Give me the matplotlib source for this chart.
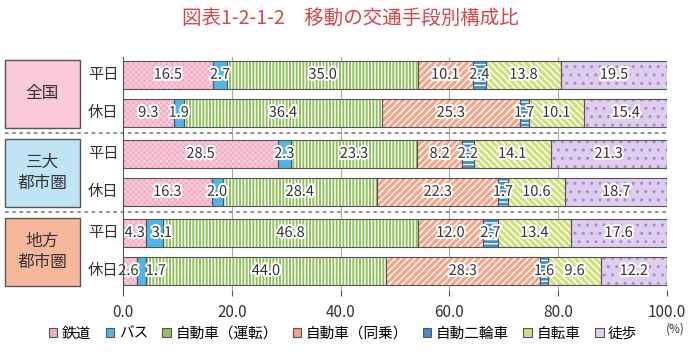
import numpy as np
import matplotlib
matplotlib.use("Agg")
import matplotlib.pyplot as plt
import matplotlib.patheffects as pe
from matplotlib.patches import Rectangle, Patch
import matplotlib.transforms as mtransforms

plt.rcParams['font.family'] = ['Noto Sans CJK JP', 'DejaVu Sans']

# data
groups = ["全国", "三大\n都市圏", "地方\n都市圏"]
days = ["平日", "休日"]
modes = ["鉄道", "バス", "自動車（運転）", "自動車（同乗）", "自動二輪車", "自転車", "徒歩"]
zenkoku_hei = [16.5, 2.7, 35.0, 10.1, 2.4, 13.8, 19.5]
zenkoku_kyu = [9.3, 1.9, 36.4, 25.3, 1.7, 10.1, 15.4]
sandai_hei = [28.5, 2.3, 23.3, 8.2, 2.2, 14.1, 21.3]
sandai_kyu = [16.3, 2.0, 28.4, 22.3, 1.7, 10.6, 18.7]
chihou_hei = [4.3, 3.1, 46.8, 12.0, 2.7, 13.4, 17.6]
chihou_kyu = [2.6, 1.7, 44.0, 28.3, 1.6, 9.6, 12.2]
xticks = [0, 20, 40, 60, 80, 100]

rows = [zenkoku_hei, zenkoku_kyu, sandai_hei, sandai_kyu, chihou_hei, chihou_kyu]

# styles
face = ["#f4adc6", "#4fb7e8", "#8fc25c", "#f5a58a", "#3f8fd0", "#cfe07c", "#dfcdee"]
hatchc = ["#fbd3e1", "#4fb7e8", "white", "white", "white", "white", "#a98bd0"]
hatches = ["xxxxxx", None, "|||||", "/////", "----", "\\\\\\\\\\", ".."]
hatch_lw = [0.6, 1.0, 1.0, 1.0, 1.0, 1.0, 1.0]
group_colors = ["#f9c8d9", "#bfe4f6", "#f6b89c"]
# nudge for labels that would collide (row, mode): shift in % units
label_shift = {(4, 1): 1.3, (5, 1): 2.6, (5, 0): -0.3}

group_gap = 2.08
ypos = []
for g in range(len(groups)):
    for r in range(len(days)):
        ypos.append(g * group_gap + r)
ypos = np.array(ypos)
bar_h = 0.74

fig = plt.figure(figsize=(7, 3.58), dpi=100)
ax = fig.add_axes([0.1757, 0.19, 0.7773, 0.651])

left = np.zeros(len(rows))
data = np.array(rows)
for j in range(len(modes)):
    vals = data[:, j]
    plt.rcParams['hatch.color'] = hatchc[j]
    plt.rcParams['hatch.linewidth'] = hatch_lw[j]
    ax.barh(ypos, vals, left=left, height=bar_h, color=face[j],
            hatch=hatches[j], edgecolor=hatchc[j], linewidth=0, zorder=2)
    ax.barh(ypos, vals, left=left, height=bar_h, color="none",
            edgecolor="#555555", linewidth=0.8, zorder=3)
    for i, (yy, l, v) in enumerate(zip(ypos, left, vals)):
        dx = label_shift.get((i, j), 0)
        ax.text(l + v / 2 + dx, yy, f"{v:.1f}", ha="center", va="center",
                fontsize=10.5, color="#333333", zorder=4,
                path_effects=[pe.withStroke(linewidth=3, foreground="white")])
    left = left + vals

ax.set_xlim(0, 100)
ax.set_ylim(5.66, -0.47)
ax.set_xticks(xticks)
ax.set_xticklabels([f"{t:.1f}" for t in xticks], fontsize=11, color="#333333")
ax.set_yticks([])
ax.tick_params(axis="x", length=4, color="#555555", pad=6)
for s in ["top", "right", "bottom"]:
    ax.spines[s].set_visible(False)
ax.spines["left"].set_color("#555555")
ax.spines["left"].set_zorder(5)
for t in xticks[1:]:
    ax.axvline(t, color="#aaaaaa", lw=0.8, zorder=1)

# row labels and group boxes
trans = mtransforms.blended_transform_factory(fig.transFigure, ax.transData)
for i, yy in enumerate(ypos):
    ax.text(103 / 700, yy, days[i % 2], transform=trans, ha="center", va="center",
            fontsize=11, color="#333333")
for g in range(len(groups)):
    y0 = g * group_gap - 0.39
    ax.add_patch(Rectangle((5 / 700, y0), 75 / 700, 1.78, transform=trans,
                           facecolor=group_colors[g], edgecolor="#555555",
                           linewidth=1, clip_on=False))
    ax.text(42.5 / 700, g * group_gap + 0.5, groups[g], transform=trans,
            ha="center", va="center", fontsize=12, color="#333333",
            linespacing=1.3)
    if g > 0:
        ym = g * group_gap - 0.54
        ax.plot([5 / 700, 667 / 700], [ym, ym], transform=trans, color="#888888",
                lw=1.3, ls=(0, (2, 2)), clip_on=False)

fig.text(0.5, 0.948, "図表1-2-1-2　移動の交通手段別構成比", ha="center", va="center",
         fontsize=14, color="#d9464a")
fig.text(0.965, 0.08, "(%)", ha="center", va="center", fontsize=8.5, color="#333333")

handles = []
for j in range(len(modes)):
    handles.append(Patch(facecolor=face[j], edgecolor="#555555", linewidth=0.8))
fig.legend(handles, modes, loc="center", bbox_to_anchor=(0.49, 0.068), ncol=7,
           frameon=False, fontsize=10.5, handlelength=0.6, handleheight=0.6,
           handletextpad=0.3, columnspacing=1.0)

fig.savefig("out.png", dpi=100)
